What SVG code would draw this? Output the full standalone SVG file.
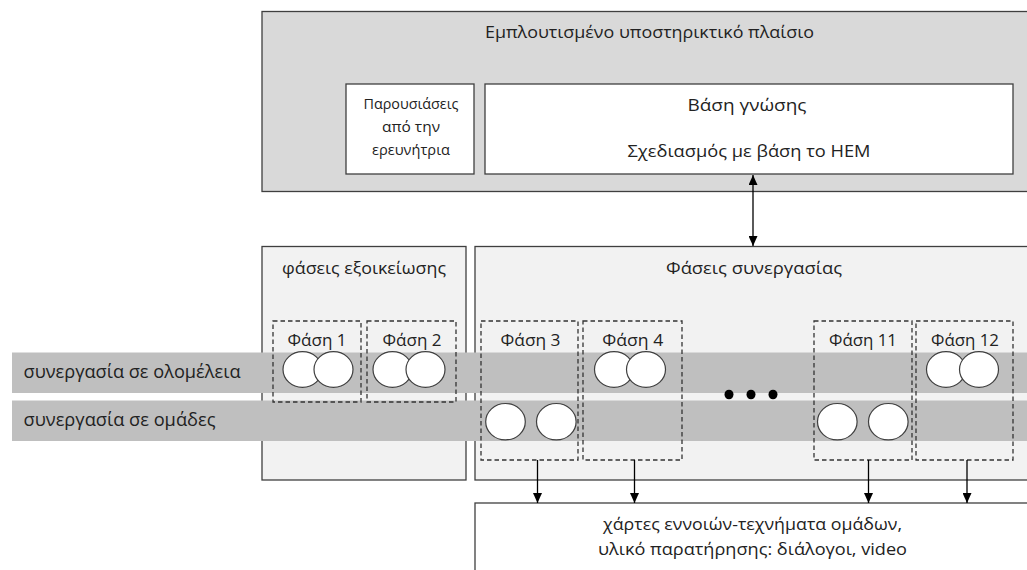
<svg xmlns="http://www.w3.org/2000/svg" width="1027" height="570" viewBox="0 0 1027 570">
  <style>
    .box { stroke: #3f3f3f; stroke-width: 1.3; }
    .dark { fill: #d9d9d9; }
    .light { fill: #f2f2f2; }
    .white { fill: #ffffff; }
    .band { fill: #bfbfbf; }
    .dash { fill: none; stroke: #333333; stroke-width: 1.3; stroke-dasharray: 4.5 3; }
    .circ { fill: #ffffff; stroke: #3f3f3f; stroke-width: 1.2; }
    .dot { fill: #000000; }
    text { font-family: "Open Sans", "Noto Sans", "DejaVu Sans", sans-serif; fill: #222222; }
    .c { text-anchor: middle; }
    .t16 { font-size: 16px; }
    .t14 { font-size: 14px; }
    .t17 { font-size: 17px; }
    .t18 { font-size: 18px; }
    .conn { stroke: #000000; stroke-width: 1.3; fill: none; }
  </style>
  <defs>
    <marker id="arr" viewBox="0 0 10 9" refX="10" refY="4.5" markerWidth="10" markerHeight="9" markerUnits="userSpaceOnUse" orient="auto-start-reverse">
      <path d="M0,0 L10,4.5 L0,9 Z" fill="#000000"/>
    </marker>
  </defs>

  <g id="framework">
    <rect class="box dark" x="262" y="11.5" width="780" height="180"/>
    <text class="c t16" x="649.5" y="37.5" textLength="329" lengthAdjust="spacingAndGlyphs">Εμπλουτισμένο υποστηρικτικό πλαίσιο</text>
  </g>
  <g id="presentations">
    <rect class="box white" x="346" y="84" width="128" height="90"/>
    <text class="c t14" x="411" y="109" textLength="95" lengthAdjust="spacingAndGlyphs">Παρουσιάσεις</text>
    <text class="c t14" x="411" y="132" textLength="58" lengthAdjust="spacingAndGlyphs">από την</text>
    <text class="c t14" x="411" y="155" textLength="78" lengthAdjust="spacingAndGlyphs">ερευνήτρια</text>
  </g>
  <g id="knowledge-base">
    <rect class="box white" x="485" y="84" width="528" height="90"/>
    <text class="c t17" x="747" y="111" textLength="119" lengthAdjust="spacingAndGlyphs">Βάση γνώσης</text>
    <text class="c t17" x="749" y="157" textLength="243" lengthAdjust="spacingAndGlyphs">Σχεδιασμός με βάση το HEM</text>
  </g>

  <g id="familiarization">
    <rect class="box light" x="262" y="246.5" width="204" height="233.5"/>
    <text class="c t17" x="364" y="274" textLength="164" lengthAdjust="spacingAndGlyphs">φάσεις εξοικείωσης</text>
  </g>
  <g id="collaboration">
    <rect class="box light" x="475" y="246.5" width="570" height="233.5"/>
    <text class="c t17" x="754" y="274" textLength="176" lengthAdjust="spacingAndGlyphs">Φάσεις συνεργασίας</text>
  </g>
  <g id="artifacts">
    <rect class="box white" x="475" y="503" width="570" height="80"/>
    <text class="c t16" x="752.5" y="530" textLength="299" lengthAdjust="spacingAndGlyphs">χάρτες εννοιών-τεχνήματα ομάδων,</text>
    <text class="c t16" x="752.5" y="555" textLength="309" lengthAdjust="spacingAndGlyphs">υλικό παρατήρησης: διάλογοι, video</text>
  </g>

  <g id="band-whole-class">
    <rect class="band" x="12" y="352.5" width="1030" height="40.5"/>
    <text class="t18" x="23.5" y="378" textLength="217" lengthAdjust="spacingAndGlyphs">συνεργασία σε ολομέλεια</text>
  </g>
  <g id="band-groups">
    <rect class="band" x="12" y="400.5" width="1030" height="40.5"/>
    <text class="t18" x="23.5" y="426" textLength="192" lengthAdjust="spacingAndGlyphs">συνεργασία σε ομάδες</text>
  </g>

  <g id="phase1">
    <rect class="dash" x="273" y="321" width="88" height="81"/>
    <text class="c t17" x="317" y="346" textLength="59" lengthAdjust="spacingAndGlyphs">Φάση 1</text>
    <ellipse class="circ" cx="302.5" cy="369.5" rx="19.5" ry="17.8"/>
    <ellipse class="circ" cx="333.5" cy="369.5" rx="19.5" ry="17.8"/>
  </g>
  <g id="phase2">
    <rect class="dash" x="367" y="321" width="89" height="81"/>
    <text class="c t17" x="412" y="346" textLength="59" lengthAdjust="spacingAndGlyphs">Φάση 2</text>
    <ellipse class="circ" cx="392.5" cy="369.5" rx="19.5" ry="17.8"/>
    <ellipse class="circ" cx="425.5" cy="369.5" rx="19.5" ry="17.8"/>
  </g>
  <g id="phase3">
    <rect class="dash" x="481" y="321" width="97" height="139"/>
    <text class="c t17" x="530.5" y="346" textLength="60" lengthAdjust="spacingAndGlyphs">Φάση 3</text>
    <ellipse class="circ" cx="505.5" cy="421.7" rx="19.8" ry="18.2"/>
    <ellipse class="circ" cx="556.3" cy="421.7" rx="19.8" ry="18.2"/>
  </g>
  <g id="phase4">
    <rect class="dash" x="583" y="321" width="99" height="139"/>
    <text class="c t17" x="632.8" y="346" textLength="61" lengthAdjust="spacingAndGlyphs">Φάση 4</text>
    <ellipse class="circ" cx="614" cy="369.5" rx="19.5" ry="17.8"/>
    <ellipse class="circ" cx="646" cy="369.5" rx="19.5" ry="17.8"/>
  </g>
  <g id="ellipsis">
    <ellipse class="dot" cx="729" cy="394.5" rx="4.5" ry="4.8"/>
    <ellipse class="dot" cx="751" cy="394.5" rx="4.5" ry="4.8"/>
    <ellipse class="dot" cx="773" cy="394.5" rx="4.5" ry="4.8"/>
  </g>
  <g id="phase11">
    <rect class="dash" x="814" y="321" width="98" height="139"/>
    <text class="c t17" x="863" y="346" textLength="68" lengthAdjust="spacingAndGlyphs">Φάση 11</text>
    <ellipse class="circ" cx="837.3" cy="421.7" rx="19.8" ry="18.2"/>
    <ellipse class="circ" cx="888.3" cy="421.7" rx="19.8" ry="18.2"/>
  </g>
  <g id="phase12">
    <rect class="dash" x="916" y="321" width="97" height="139"/>
    <text class="c t17" x="965" y="346" textLength="68" lengthAdjust="spacingAndGlyphs">Φάση 12</text>
    <ellipse class="circ" cx="946" cy="369.5" rx="19.5" ry="17.8"/>
    <ellipse class="circ" cx="979" cy="369.5" rx="19.5" ry="17.8"/>
  </g>

  <g id="connectors">
    <line class="conn" x1="753" y1="175" x2="753" y2="246" marker-start="url(#arr)" marker-end="url(#arr)"/>
    <line class="conn" x1="537.5" y1="460" x2="537.5" y2="503" marker-end="url(#arr)"/>
    <line class="conn" x1="634.5" y1="460" x2="634.5" y2="503" marker-end="url(#arr)"/>
    <line class="conn" x1="868.5" y1="460" x2="868.5" y2="503" marker-end="url(#arr)"/>
    <line class="conn" x1="967" y1="460" x2="967" y2="503" marker-end="url(#arr)"/>
  </g>
</svg>
